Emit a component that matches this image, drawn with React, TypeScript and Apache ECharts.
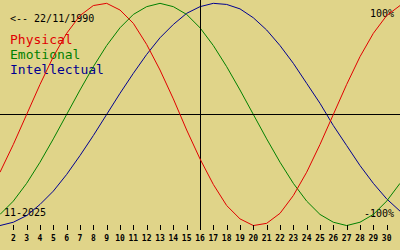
import React, { useEffect, useRef } from "react";
import * as echarts from "echarts";

const days = [1, 2, 3, 4, 5, 6, 7, 8, 9, 10, 11, 12, 13, 14, 15, 16, 17, 18, 19, 20, 21, 22, 23, 24, 25, 26, 27, 28, 29, 30, 31];
const tickDays = [2, 3, 4, 5, 6, 7, 8, 9, 10, 11, 12, 13, 14, 15, 16, 17, 18, 19, 20, 21, 22, 23, 24, 25, 26, 27, 28, 29, 30];

const physical = [-0.52, -0.27, 0.0, 0.27, 0.52, 0.73, 0.89, 0.98, 1.0, 0.94, 0.82, 0.63, 0.4, 0.14, -0.14, -0.4, -0.63, -0.82, -0.94, -1.0, -0.98, -0.89, -0.73, -0.52, -0.27, 0.0, 0.27, 0.52, 0.73, 0.89, 0.98];
const emotional = [-0.9, -0.78, -0.62, -0.43, -0.22, 0.0, 0.22, 0.43, 0.62, 0.78, 0.9, 0.97, 1.0, 0.97, 0.9, 0.78, 0.62, 0.43, 0.22, 0.0, -0.22, -0.43, -0.62, -0.78, -0.9, -0.97, -1.0, -0.97, -0.9, -0.78, -0.62];
const intellectual = [-1.0, -0.97, -0.91, -0.81, -0.69, -0.54, -0.37, -0.19, 0.0, 0.19, 0.37, 0.54, 0.69, 0.81, 0.91, 0.97, 1.0, 0.99, 0.95, 0.87, 0.76, 0.62, 0.46, 0.28, 0.1, -0.1, -0.28, -0.46, -0.62, -0.76, -0.87];

const seriesNames = ["Physical", "Emotional", "Intellectual"];
const seriesColors = ["#e00000", "#008000", "#000090"];
const birthLabel = "<-- 22/11/1990";
const monthLabel = "11-2025";
const topLabel = "100%";
const bottomLabel = "-100%";
const todayDay = 16;

const Y_MIN = -1.04;
const Y_MAX = 1.03;

const MONO = "'DejaVu Sans Mono', monospace";

export default function App() {
  const ref = useRef<HTMLDivElement>(null);
  useEffect(() => {
    const chart = echarts.init(ref.current!, null, { renderer: "svg" });
    const datasets = [physical, emotional, intellectual];
    const series: any[] = [2, 1, 0].map((i) => ({
      name: seriesNames[i],
      type: "line",
      xAxisIndex: 0,
      yAxisIndex: 0,
      data: days.map((d, k) => [d, datasets[i][k]]),
      symbol: "none",
      silent: true,
      lineStyle: { color: seriesColors[i], width: 1 },
      itemStyle: { color: seriesColors[i] },
      z: 3 + (2 - i),
    }));
    series.push({
      type: "line",
      xAxisIndex: 0,
      yAxisIndex: 0,
      data: [],
      silent: true,
      markLine: {
        silent: true,
        symbol: "none",
        label: { show: false },
        lineStyle: { color: "#000", width: 1, type: "solid" },
        data: [{ xAxis: todayDay }, { yAxis: 0 }],
      },
      z: 2,
    });
    // tick marks at the bottom, positioned through the x axis scale
    series.push({
      type: "custom",
      xAxisIndex: 0,
      yAxisIndex: 0,
      silent: true,
      clip: false,
      z: 10,
      data: tickDays.map((d) => [d, Y_MIN]),
      renderItem: (params: any, api: any) => {
        const pt = api.coord([api.value(0), api.value(1)]);
        const x = Math.round(pt[0]);
        return {
          type: "rect",
          shape: { x: x, y: pt[1] - 5, width: 1, height: 5 },
          style: { fill: "#000" },
        };
      },
    });
    chart.setOption({
      animation: false,
      backgroundColor: "#e0d489",
      grid: [
        { left: 0, right: 0, top: 0, bottom: 20 },
        { left: 0, right: 0, top: 225, height: 5 },
      ],
      xAxis: [
        {
          type: "value",
          gridIndex: 0,
          min: 1,
          max: 31,
          show: false,
        },
        {
          type: "value",
          gridIndex: 1,
          min: 1,
          max: 31,
          interval: 1,
          axisLine: { show: false, onZero: false },
          axisTick: { show: false },
          splitLine: { show: false },
          axisLabel: {
            customValues: tickDays,
            margin: 4,
            color: "#000",
            formatter: (v: number) => `{t|${v}}`,
            rich: {
              t: { width: 10, fontSize: 8, fontWeight: "bold", fontFamily: MONO, color: "#000" },
            },
          },
        },
      ],
      yAxis: [
        {
          type: "value",
          gridIndex: 0,
          min: Y_MIN,
          max: Y_MAX,
          show: false,
        },
        {
          type: "value",
          gridIndex: 1,
          min: 0,
          max: 1,
          show: false,
        },
      ],
      graphic: [
        { type: "text", x: 10, y: 18, silent: true, style: { text: birthLabel, fill: "#000", font: `10px ${MONO}`, verticalAlign: "middle" } },
        { type: "text", x: 10, y: 39, silent: true, style: { text: seriesNames[0], fill: seriesColors[0], font: `13px ${MONO}`, verticalAlign: "middle" } },
        { type: "text", x: 10, y: 54, silent: true, style: { text: seriesNames[1], fill: seriesColors[1], font: `13px ${MONO}`, verticalAlign: "middle" } },
        { type: "text", x: 10, y: 69, silent: true, style: { text: seriesNames[2], fill: seriesColors[2], font: `13px ${MONO}`, verticalAlign: "middle" } },
        { type: "text", x: 394, y: 13, silent: true, style: { text: topLabel, fill: "#000", font: `10px ${MONO}`, align: "right", verticalAlign: "middle" } },
        { type: "text", x: 394, y: 213, silent: true, style: { text: bottomLabel, fill: "#000", font: `10px ${MONO}`, align: "right", verticalAlign: "middle" } },
        { type: "text", x: 4, y: 212, silent: true, style: { text: monthLabel, fill: "#000", font: `10px ${MONO}`, verticalAlign: "middle" } },
      ],
      series,
    });
    return () => chart.dispose();
  }, []);
  return <div ref={ref} style={{ position: "absolute", left: 0, top: 0, width: 400, height: 250 }} />;
}
